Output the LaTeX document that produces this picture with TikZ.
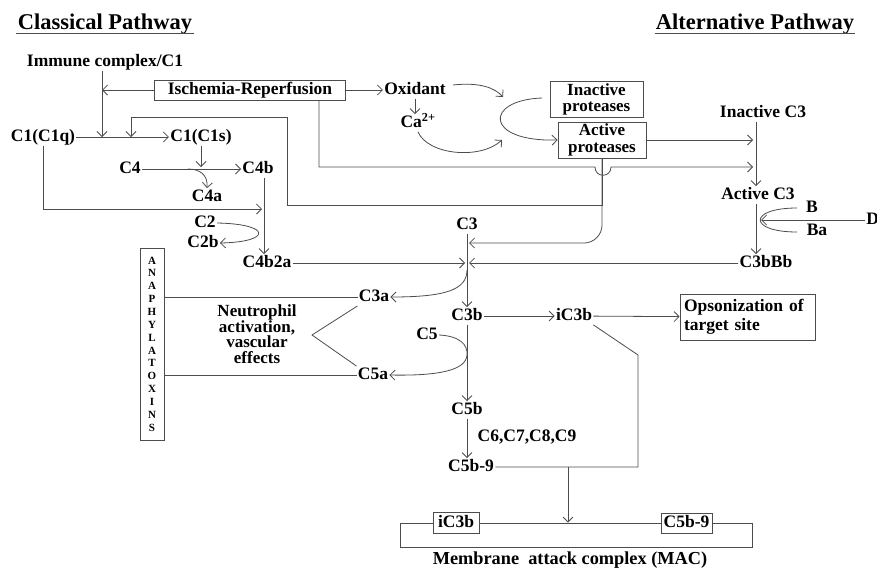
\documentclass[tikz,border=0pt]{standalone}
\usepackage{fontspec}
\setmainfont{Liberation Serif}
\usetikzlibrary{arrows.meta}

\begin{document}
\begin{tikzpicture}[x=1pt,y=-1pt,color=black!70,line width=0.8pt,
  >={Straight Barb[length=5pt,width=10pt]},
  every node/.style={text=black,inner sep=1pt,text height=12pt,text depth=3pt,
    font=\bfseries\fontsize{17.5}{15}\selectfont},
  ttl/.style={font=\bfseries\fontsize{22.5}{24}\selectfont,text height=15pt},
  multi/.style={text height={},text depth={}},
  box/.style={draw,fill=white,inner sep=2pt},
  prot/.style={box,multi,align=center,font=\bfseries\fontsize{17}{16.5}\selectfont}]
\useasboundingbox (0,0) rectangle (877,568);

% headings
\node[ttl] (classical)   at (105,23) {Classical Pathway};
\node[ttl] (alternative) at (755,23) {Alternative Pathway};
\draw (classical.south west) -- (classical.south east);
\draw (alternative.south west) -- (alternative.south east);

% classical side
\node (immune) at (105,62)  {Immune complex/C1};
\node[box,minimum width=191pt,minimum height=20pt] (isch) at (250,90) {Ischemia-Reperfusion};
\node (c1q)   at (43,137)  {C1(C1q)};
\node (c1s)   at (201,137) {C1(C1s)};
\node (c4)    at (130,169) {C4};
\node (c4b)   at (258,169) {C4b};
\node (c4a)   at (207,197) {C4a};
\node (c2)    at (205,223) {C2};
\node (c2b)   at (203,243) {C2b};
\node (c4b2a) at (267,263) {C4b2a};

% oxidants and proteases
\node (oxidant) at (415,90)  {Oxidant};
\node (ca)      at (418,123) {Ca\textsuperscript{2+}};
\node[prot,minimum width=93pt,minimum height=35pt] (inprot)  at (596.5,99.5) {Inactive\\proteases};
\node[prot,minimum width=88pt,minimum height=36pt] (actprot) at (602,140)    {Active\\proteases};

% alternative side
\node (inc3)  at (763,113) {Inactive C3};
\node (actc3) at (758,195) {Active C3};
\node (bfac)  at (812,208) {B};
\node (ba)    at (817,231) {Ba};
\node[anchor=west] (dfac) at (865,220) {D};
\node (c3bbb) at (766,263) {C3bBb};

% common part
\node (c3)    at (467,225) {C3};
\node (c3a)   at (374,297) {C3a};
\node (c3b)   at (467,316) {C3b};
\node (ic3b)  at (574,316) {iC3b};
\node[box,multi,align=left,text width=127pt,inner xsep=4pt,minimum height=46pt,
  font=\bfseries\fontsize{17.5}{19}\selectfont] (opson) at (747.5,317) {Opsonization of\\target site};
\node[multi,align=center,font=\bfseries\fontsize{17}{15.5}\selectfont] (neutro) at (257,334)
  {Neutrophil\\activation,\\vascular\\effects};
\node (c5)    at (427,335) {C5};
\node (c5a)   at (373,375) {C5a};
\node (c5b)   at (467,410) {C5b};
\node (c6)    at (527,437) {C6,C7,C8,C9};
\node (c5b9)  at (471,467) {C5b-9};
\node[draw,multi,align=center,minimum width=24pt,minimum height=192pt,inner sep=0pt,
  font=\bfseries\fontsize{11}{12.85}\selectfont] (anaph) at (152,344)
  {A\\N\\A\\P\\H\\Y\\L\\A\\T\\O\\X\\I\\N\\S};

% membrane attack complex
\node[draw,minimum width=352pt,minimum height=24pt,text height={},text depth={}] (mac) at (576,535) {};
\node[box,minimum width=46pt,minimum height=21pt] (mi) at (456,523)   {iC3b};
\node[box,minimum width=51pt,minimum height=20pt] (mc) at (686.5,523) {C5b-9};
\node[font=\bfseries\fontsize{18.3}{20}\selectfont] (mactxt) at (570,560) {Membrane\ \ attack complex (MAC)};

% free ends
\coordinate (j1) at (102,137);
\coordinate (j2) at (131,137);
\coordinate (ix) at (319,0);
\coordinate (v3) at (756,0);
\coordinate (v4) at (264,0);
\coordinate (ta) at (753,140);
\coordinate (tb) at (753,167);
\coordinate (td) at (761,220);
\coordinate (tc) at (469,243);
\coordinate (t1) at (465,263);
\coordinate (t2) at (469,263);
\coordinate (t4) at (262,209);
\coordinate (s4a) at (188,169);
\coordinate (s3a) at (467,270);
\coordinate (ox1) at (453,85);
\coordinate (ox2) at (503,97);
\coordinate (ca2) at (502,140);
\coordinate (ip1) at (542,98);
\coordinate (bb1) at (797,208);
\coordinate (bb2) at (797,232);
\coordinate (nv) at (312,335);
\coordinate (m1) at (638,355);
\coordinate (m2) at (638,467);
\coordinate (m3) at (568,467);

\path[->]
(c1q)     edge (c1s)
(c4)      edge (c4b)
(isch)    edge (oxidant)
(actprot) edge (ta)
(c3bbb)   edge (t2)
(c4b2a)   edge (t1)
(dfac)    edge (td)
(c3)      edge (c3b)
(c3b)     edge (c5b)
(c3b)     edge (ic3b)
(ic3b)    edge (opson)
;
\draw[->] (immune.south -| j1) -- (j1);
\draw[->] (isch.west) -- (isch.west -| j1);
\draw[->] (c1s.south) -- ([yshift=2pt]c1s.south |- c4);
\draw[->] (s4a) .. controls (200,169) and (208,175) .. (c4a.north);
\draw[->] (c4b.south -| v4) -- (c4b2a.north -| v4);
\draw[->] (c1q.south) |- (t4);
\draw[->] (c2.east) .. controls (272,224) and (272,242) .. (c2b.east);
\draw[->] (oxidant.south) -- (oxidant.south |- ca.north);
\draw[->] (ox1) .. controls (480,82) and (495,88) .. (ox2);
\draw[->] (ca.south) .. controls (428,155) and (480,160) .. (ca2);
\draw[->] (ip1) .. controls (484,100) and (484,142) .. (actprot.west);
\draw[->] (actprot.south) |- (287,205) |- (131,117) -- (j2);
\draw[->,rounded corners=18pt] (actprot.south) |- (tc);
\draw[->] (isch.south -| ix) |- (595,167) .. controls (595,178) and (611,178) .. (611,167) -- (tb);
\draw[->] (inc3.south -| v3) -- (actc3.north -| v3);
\draw[->] (actc3.south -| v3) -- (c3bbb.north -| v3);
\draw (bb1) .. controls (748,208) and (748,232) .. (bb2);
\draw[->] (s3a) .. controls (467,290) and (445,297) .. (c3a.east);
\draw (anaph.east |- c3a) -- (c3a.west);
\draw (anaph.east |- c5a) -- (c5a.west);
\draw (c3a.south west) -- (nv) -- (c5a.north west);
\draw[->] (c5.east) .. controls (460,336) and (468,345) .. (467,355)
  .. controls (466,370) and (440,376) .. (c5a.east);
\draw[->] (c5b) -- (c5b |- c5b9.north);
\draw (ic3b.south east) -- (m1) -- (m2) -- (c5b9.east);
\draw[->] (m3) -- (mac.north -| m3);
\end{tikzpicture}
\end{document}
